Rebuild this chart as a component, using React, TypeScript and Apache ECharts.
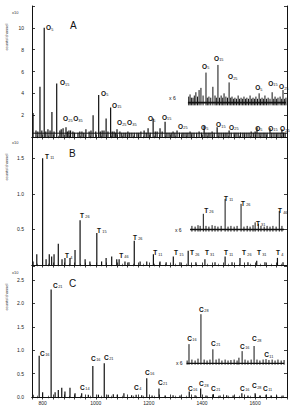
import React, { useEffect, useRef } from "react";
import * as echarts from "echarts";

// ---------- axis ----------
const X_MIN = 760;
const X_MAX = 1720;
const xTickLabels = [800, 1000, 1200, 1400, 1600];
const yMaxA = 12;
const yMaxB = 1.8;
const yMaxC = 2.8;
const yLabelsA = [2, 4, 6, 8, 10];
const yLabelsB = [0.5, 1.0, 1.5];
const yLabelsC = [0, 0.5, 1.0, 1.5, 2.0, 2.5];

// ---------- panel A (O) ----------
const peaksA: number[][] = [
  [764, 2.2], [775, 0.6], [782, 0.5], [790, 4.6], [797, 0.6], [806, 10.0], [812, 0.5], [820, 0.7],
  [828, 0.6], [835, 2.3], [843, 0.5], [853, 4.9], [865, 0.6], [870, 0.7], [877, 0.8], [888, 0.9],
  [893, 0.5], [899, 0.6], [905, 0.6], [914, 0.5], [920, 0.4], [933, 0.4], [940, 0.5], [948, 0.5],
  [955, 0.4], [963, 0.7], [975, 0.5], [982, 0.6], [990, 2.0], [1000, 0.5], [1011, 3.85], [1017, 0.5],
  [1024, 0.6], [1031, 0.6], [1039, 1.7], [1046, 0.5], [1056, 2.7], [1062, 0.5], [1069, 0.5], [1075, 0.4],
  [1080, 0.7], [1091, 0.5], [1098, 0.4], [1106, 0.4], [1113, 0.4], [1121, 0.5], [1128, 0.4], [1136, 0.4],
  [1145, 0.4], [1155, 0.4], [1162, 0.4], [1170, 0.5], [1182, 0.6], [1190, 0.4], [1197, 0.8], [1205, 0.4],
  [1216, 1.7], [1224, 0.5], [1231, 0.5], [1242, 0.8], [1250, 0.5], [1261, 1.4], [1268, 0.4], [1276, 0.4],
  [1284, 0.4], [1291, 0.5], [1298, 0.4], [1306, 0.6], [1315, 0.4], [1325, 0.4], [1332, 0.4], [1340, 0.4],
  [1347, 0.4], [1355, 0.5], [1362, 0.4], [1370, 0.4], [1380, 0.4], [1389, 0.5], [1398, 0.4], [1408, 1.0],
  [1415, 0.4], [1423, 0.4], [1430, 0.4], [1438, 0.5], [1446, 0.4], [1457, 0.9], [1464, 0.4], [1472, 0.4],
  [1480, 0.4], [1487, 0.4], [1494, 0.4], [1502, 0.6], [1510, 0.4], [1521, 0.4], [1528, 0.4], [1536, 0.4],
  [1545, 0.4], [1554, 0.4], [1561, 0.4], [1569, 0.4], [1577, 0.4], [1585, 0.5], [1593, 0.4], [1600, 0.5],
  [1607, 0.9], [1615, 0.4], [1622, 0.4], [1630, 0.4], [1637, 0.4], [1645, 0.4], [1656, 0.8], [1663, 0.4],
  [1671, 0.4], [1679, 0.4], [1686, 0.4], [1694, 0.4], [1701, 0.7], [1707, 0.4], [1713, 0.4],
];
const insetBaseA = 3.15;
const insetLowA = 2.9;
const insetSpanA = [1347, 1716];
const insetA: number[][] = [
  [1350, 3.7], [1355, 3.9], [1360, 3.6], [1366, 3.6], [1371, 3.8], [1377, 4.1], [1383, 3.7], [1389, 4.3],
  [1396, 4.5], [1404, 3.8], [1415, 5.9], [1420, 3.6], [1426, 3.7], [1433, 3.6], [1441, 4.6], [1449, 3.8],
  [1454, 3.6], [1460, 6.6], [1466, 3.6], [1472, 3.8], [1478, 3.6], [1483, 4.0], [1490, 3.7], [1496, 3.6],
  [1502, 5.0], [1508, 3.6], [1513, 3.7], [1519, 3.5], [1524, 3.6], [1530, 3.5], [1536, 3.8], [1541, 3.5],
  [1547, 3.6], [1553, 3.5], [1558, 3.7], [1564, 3.5], [1569, 3.6], [1575, 3.5], [1581, 3.8], [1587, 3.5],
  [1592, 3.6], [1598, 3.5], [1603, 3.7], [1609, 3.5], [1615, 4.0], [1620, 3.5], [1626, 3.6], [1632, 3.5],
  [1637, 3.8], [1643, 3.5], [1649, 3.6], [1656, 3.5], [1664, 4.1], [1670, 3.5], [1675, 3.7], [1681, 3.5],
  [1686, 3.6], [1694, 3.7], [1700, 3.5], [1705, 4.3], [1711, 3.5], [1716, 3.6],
];
const labelsA: [number, number, string, string][] = [
  [813, 10.0, "O", "5"], [865, 4.95, "O", "15"], [877, 1.65, "O", "25"], [915, 1.65, "O", "35"],
  [1020, 4.0, "O", "5"], [1061, 2.9, "O", "15"], [1080, 1.3, "O", "25"], [1118, 1.3, "O", "35"],
  [1197, 1.65, "O", "5"], [1249, 1.8, "O", "15"], [1310, 1.0, "O", "25"], [1396, 0.9, "O", "5"],
  [1453, 1.1, "O", "15"], [1502, 0.9, "O", "25"], [1600, 0.8, "O", "5"], [1649, 0.8, "O", "15"],
  [1694, 0.75, "O", "25"], [1400, 6.5, "O", "5"], [1445, 7.2, "O", "15"], [1498, 5.5, "O", "25"],
  [1600, 4.5, "O", "5"], [1649, 4.9, "O", "15"], [1690, 4.6, "O", "25"], [1276, 3.6, "x 6", ""],
];

// ---------- panel B (T) ----------
const peaksB: number[][] = [
  [764, 0.05], [778, 0.15], [800, 1.5], [813, 0.08], [825, 0.15], [834, 0.12], [843, 0.15], [859, 0.3],
  [873, 0.08], [884, 0.1], [903, 0.1], [922, 0.21], [941, 0.63], [960, 0.08], [978, 0.05], [1004, 0.45],
  [1022, 0.05], [1039, 0.1], [1060, 0.12], [1079, 0.08], [1088, 0.08], [1110, 0.05], [1125, 0.04],
  [1145, 0.34], [1167, 0.05], [1192, 0.05], [1217, 0.15], [1242, 0.05], [1265, 0.04], [1292, 0.12],
  [1317, 0.04], [1348, 0.2], [1377, 0.04], [1411, 0.08], [1449, 0.04], [1487, 0.12], [1513, 0.04],
  [1543, 0.1], [1573, 0.04], [1606, 0.06], [1637, 0.04], [1684, 0.1], [1705, 0.04],
];
const insetBaseB = 0.5;
const insetLowB = 0.47;
const insetSpanB = [1355, 1709];
const insetB: number[][] = [
  [1362, 0.55], [1374, 0.54], [1385, 0.56], [1393, 0.55], [1405, 0.72], [1415, 0.55], [1426, 0.54],
  [1438, 0.56], [1449, 0.55], [1460, 0.54], [1472, 0.55], [1487, 0.93], [1498, 0.54], [1509, 0.55],
  [1521, 0.54], [1532, 0.55], [1547, 0.86], [1558, 0.54], [1570, 0.55], [1581, 0.54], [1592, 0.56],
  [1600, 0.6], [1612, 0.58], [1622, 0.55], [1634, 0.54], [1645, 0.55], [1656, 0.54], [1667, 0.55],
  [1679, 0.54], [1691, 0.76], [1701, 0.55],
];
const labelsB: [number, number, string, string][] = [
  [809, 1.53, "T", "11"], [884, 0.13, "T", "4"], [941, 0.7, "T", "26"], [1005, 0.49, "T", "15"],
  [1088, 0.14, "T", "46"], [1140, 0.39, "T", "26"], [1216, 0.17, "T", "11"], [1295, 0.17, "T", "15"],
  [1355, 0.17, "T", "26"], [1411, 0.17, "T", "31"], [1483, 0.17, "T", "11"], [1551, 0.17, "T", "26"],
  [1607, 0.17, "T", "31"], [1679, 0.17, "T", "4"], [1408, 0.77, "T", "26"], [1483, 0.94, "T", "11"],
  [1547, 0.87, "T", "26"], [1603, 0.59, "T", "31"], [1686, 0.76, "T", "46"], [1298, 0.49, "x 6", ""],
];

// ---------- panel C (C) ----------
const peaksC: number[][] = [
  [764, 0.05], [787, 0.88], [800, 0.1], [832, 2.3], [847, 0.1], [859, 0.15], [872, 0.2], [884, 0.12],
  [903, 0.2], [922, 0.08], [947, 0.08], [972, 0.05], [989, 0.66], [1010, 0.05], [1032, 0.72], [1047, 0.05],
  [1066, 0.06], [1081, 0.05], [1106, 0.08], [1135, 0.04], [1152, 0.05], [1173, 0.04], [1192, 0.4],
  [1212, 0.03], [1238, 0.18], [1261, 0.03], [1291, 0.04], [1317, 0.03], [1352, 0.12], [1374, 0.04],
  [1395, 0.18], [1415, 0.03], [1443, 0.06], [1468, 0.03], [1493, 0.04], [1517, 0.03], [1550, 0.08],
  [1573, 0.03], [1600, 0.08], [1618, 0.03], [1641, 0.05], [1660, 0.03], [1681, 0.03], [1705, 0.03],
];
const insetBaseC = 0.72;
const insetLowC = 0.69;
const insetSpanC = [1342, 1709];
const insetC: number[][] = [
  [1344, 0.78], [1351, 1.13], [1362, 0.8], [1374, 0.78], [1385, 0.82], [1396, 1.77], [1408, 0.8],
  [1419, 0.78], [1430, 0.8], [1441, 1.02], [1453, 0.8], [1464, 0.82], [1475, 0.78], [1487, 0.8],
  [1498, 0.78], [1509, 0.79], [1521, 0.8], [1532, 0.78], [1539, 0.84], [1551, 0.98], [1562, 0.8],
  [1573, 0.78], [1585, 0.8], [1596, 1.09], [1607, 0.8], [1618, 0.78], [1630, 0.8], [1641, 0.81],
  [1652, 0.79], [1664, 0.8], [1675, 0.78], [1686, 0.8], [1698, 0.78], [1709, 0.79],
];
const labelsC: [number, number, string, string][] = [
  [790, 0.94, "C", "16"], [839, 2.39, "C", "21"], [941, 0.21, "C", "14"], [982, 0.83, "C", "16"],
  [1031, 0.85, "C", "21"], [1144, 0.21, "C", "4"], [1185, 0.53, "C", "16"], [1234, 0.32, "C", "21"],
  [1347, 0.19, "C", "16"], [1389, 0.28, "C", "28"], [1434, 0.19, "C", "21"], [1543, 0.19, "C", "16"],
  [1588, 0.24, "C", "28"], [1630, 0.19, "C", "11"], [1344, 1.26, "C", "16"], [1389, 1.88, "C", "28"],
  [1434, 1.15, "C", "21"], [1543, 1.09, "C", "16"], [1588, 1.24, "C", "28"], [1634, 0.9, "C", "11"],
  [1302, 0.73, "x 6", ""],
];
const mainBaseA = 0.35;

const INK = "#111";

function stickSeries(data: number[][], low: number, idx: number, width: number) {
  return {
    type: "custom",
    xAxisIndex: idx * 2,
    yAxisIndex: idx * 2,
    silent: true,
    clip: true,
    encode: { x: 0, y: [1, 2] },
    data: data.map((d) => [d[0], low, d[1]]),
    renderItem: (_p: any, api: any) => {
      const a = api.coord([api.value(0), api.value(1)]);
      const b = api.coord([api.value(0), api.value(2)]);
      return {
        type: "line",
        shape: { x1: a[0], y1: a[1], x2: b[0], y2: b[1] },
        style: { stroke: INK, lineWidth: width },
      };
    },
  };
}

function baseLine(span: number[], y: number, idx: number, width: number) {
  return {
    type: "line",
    xAxisIndex: idx * 2,
    yAxisIndex: idx * 2,
    silent: true,
    symbol: "none",
    color: INK,
    data: [[span[0], y], [span[1], y]],
    lineStyle: { color: INK, width },
  };
}

// peak labels: letter plus small subscript, anchored at a data point
function labelSeries(labels: [number, number, string, string][], idx: number) {
  return {
    type: "custom",
    xAxisIndex: idx * 2,
    yAxisIndex: idx * 2,
    silent: true,
    clip: false,
    encode: { x: 0, y: 1 },
    data: labels.map((l) => [l[0], l[1], l[2], l[3]]),
    renderItem: (params: any, api: any) => {
      const l = labels[params.dataIndex];
      const p = api.coord([l[0], l[1]]);
      const main = l[2];
      const sub = l[3];
      const isX = main.length > 1;
      const children: any[] = [
        {
          type: "text",
          x: p[0],
          y: p[1],
          style: {
            text: main,
            fontSize: isX ? 5 : 6.5,
            fontWeight: isX ? "normal" : "bold",
            fontFamily: "Liberation Sans",
            fill: INK,
            align: "left",
            verticalAlign: "middle",
          },
        },
      ];
      if (sub) {
        children.push({
          type: "text",
          x: p[0] + 5.2,
          y: p[1] + 1.8,
          style: {
            text: sub,
            fontSize: 3.8,
            fontFamily: "Liberation Sans",
            fill: INK,
            align: "left",
            verticalAlign: "middle",
          },
        });
      }
      return { type: "group", children };
    },
  };
}

const grids = [
  { left: 32, right: 6, top: 6, height: 131 },
  { left: 32, right: 6, top: 137, height: 128 },
  { left: 32, right: 6, top: 266, height: 131 },
];

function near(v: number, list: number[]) {
  return list.some((t) => Math.abs(t - v) < 1e-6);
}

function xAxes(idx: number) {
  const common = {
    type: "value",
    gridIndex: idx,
    min: X_MIN,
    max: X_MAX,
    interval: 40,
    axisLine: { show: true, lineStyle: { color: INK, width: 1 } },
    axisTick: { show: true, inside: true, length: 2.5, lineStyle: { color: INK, width: 0.8 } },
    minorTick: { show: true, splitNumber: 2, length: 1.3, lineStyle: { color: INK, width: 0.6 } },
    splitLine: { show: false },
    minorSplitLine: { show: false },
  };
  return [
    {
      ...common,
      position: "bottom",
      axisLabel: {
        show: idx === 2,
        fontSize: 5,
        margin: 3,
        color: "#222",
        fontFamily: "Liberation Sans",
        formatter: (v: number) => (near(v, xTickLabels) ? String(v) : ""),
      },
    },
    { ...common, position: "top", axisLabel: { show: false } },
  ];
}

function yAxes(idx: number, max: number, interval: number, shown: number[], digits: number) {
  const common = {
    type: "value",
    gridIndex: idx,
    min: 0,
    max,
    interval,
    axisLine: { show: true, lineStyle: { color: INK, width: 1 } },
    axisTick: { show: true, inside: true, length: 3, lineStyle: { color: INK, width: 0.8 } },
    splitLine: { show: false },
  };
  return [
    {
      ...common,
      position: "left",
      axisLabel: {
        show: true,
        fontSize: 5,
        margin: 8,
        color: "#222",
        fontFamily: "Liberation Sans",
        formatter: (v: number) => (near(v, shown) ? v.toFixed(digits) : ""),
      },
    },
    { ...common, position: "right", axisLabel: { show: false } },
  ];
}

function sideTexts(top: number, centerY: number) {
  return [
    {
      type: "text",
      x: 12,
      y: top + 4,
      style: { text: "x10", fontSize: 4, fill: "#333", fontFamily: "Liberation Sans" },
    },
    {
      type: "text",
      x: 6,
      y: centerY,
      rotation: Math.PI / 2,
      style: {
        text: "counts/channel",
        fontSize: 4,
        fill: "#333",
        fontFamily: "Liberation Sans",
        align: "center",
        verticalAlign: "middle",
      },
    },
  ];
}

export default function App() {
  const ref = useRef<HTMLDivElement>(null);
  useEffect(() => {
    document.body.style.margin = "0";
    if (!ref.current) return;
    const chart = echarts.init(ref.current, undefined, { renderer: "svg" });
    chart.setOption({
      animation: false,
      backgroundColor: "#fff",
      color: [INK],
      grid: grids,
      xAxis: [...xAxes(0), ...xAxes(1), ...xAxes(2)],
      yAxis: [
        ...yAxes(0, yMaxA, 2, yLabelsA, 0),
        ...yAxes(1, yMaxB, 0.5, yLabelsB, 1),
        ...yAxes(2, yMaxC, 0.5, yLabelsC, 1),
      ],
      graphic: [
        ...sideTexts(6, 37),
        ...sideTexts(136, 167),
        ...sideTexts(266, 297),
        { type: "text", x: 70, y: 20, style: { text: "A", fontSize: 10, fill: INK, fontFamily: "Liberation Sans" } },
        { type: "text", x: 69, y: 148, style: { text: "B", fontSize: 10, fill: INK, fontFamily: "Liberation Sans" } },
        { type: "text", x: 69, y: 278, style: { text: "C", fontSize: 10, fill: INK, fontFamily: "Liberation Sans" } },
      ],
      series: [
        stickSeries(peaksA, 0, 0, 1.2),
        baseLine([X_MIN, X_MAX], mainBaseA, 0, 1),
        stickSeries(insetA, insetLowA, 0, 1),
        baseLine(insetSpanA, insetBaseA, 0, 1.8),
        labelSeries(labelsA, 0),
        stickSeries(peaksB, 0, 1, 1.2),
        stickSeries(insetB, insetLowB, 1, 1),
        baseLine(insetSpanB, insetBaseB, 1, 1.5),
        labelSeries(labelsB, 1),
        stickSeries(peaksC, 0, 2, 1.2),
        stickSeries(insetC, insetLowC, 2, 1),
        baseLine(insetSpanC, insetBaseC, 2, 1.3),
        labelSeries(labelsC, 2),
      ],
    });
    return () => chart.dispose();
  }, []);
  return <div ref={ref} style={{ width: 293, height: 407 }} />;
}
